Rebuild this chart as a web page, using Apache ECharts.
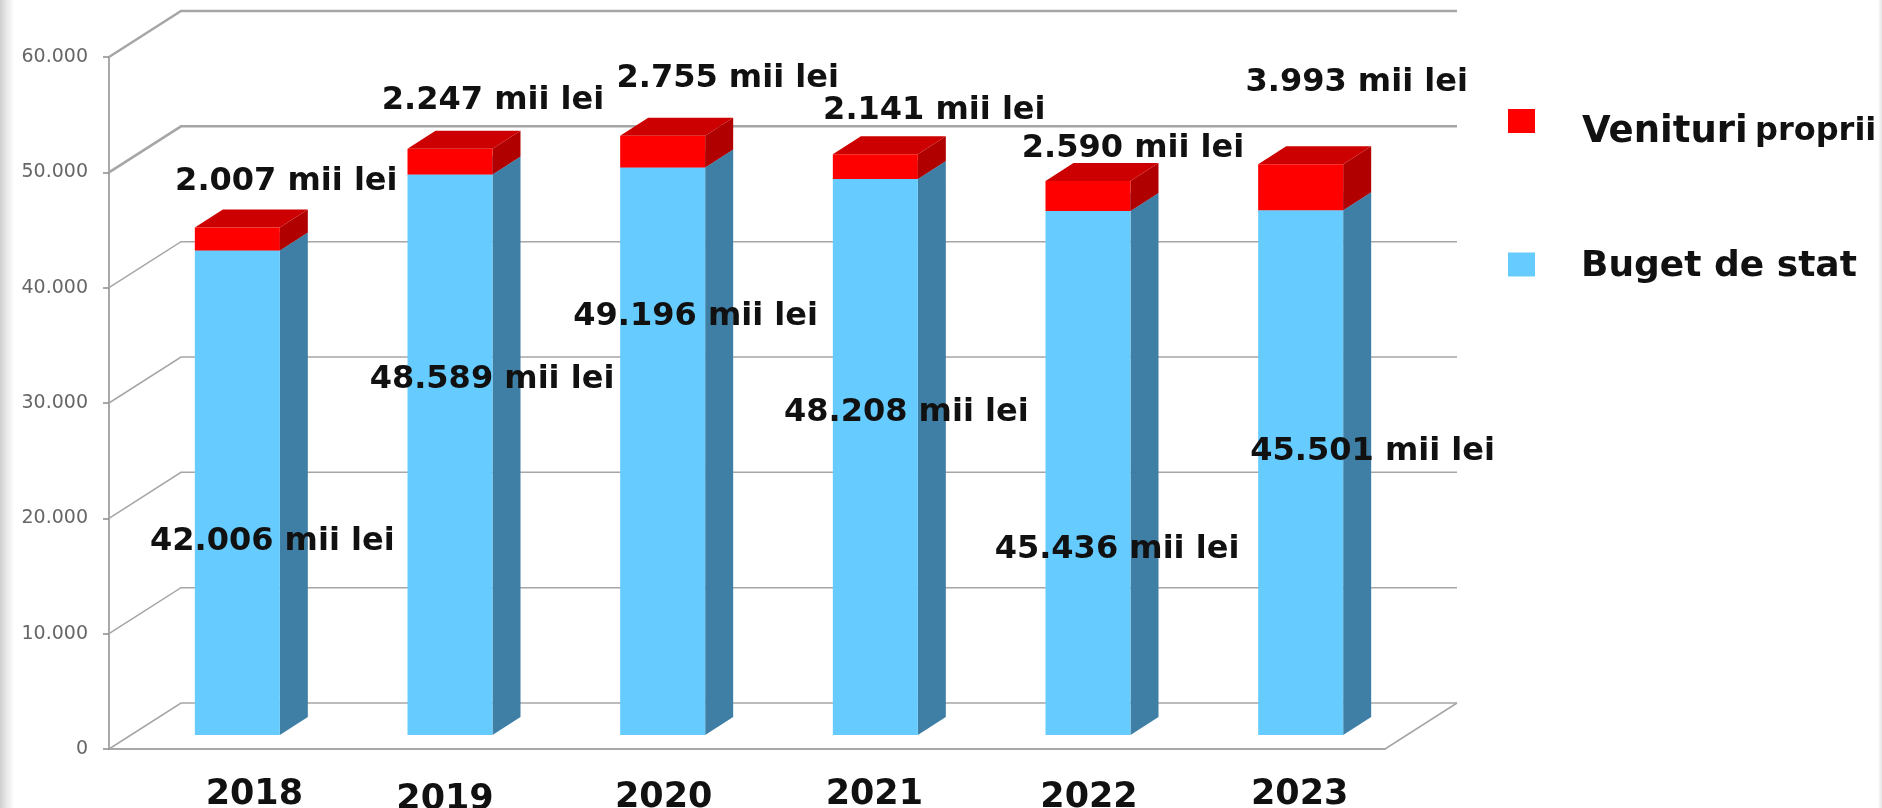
<!DOCTYPE html>
<html>
<head>
<meta charset="utf-8">
<style>
html,body{margin:0;padding:0;width:1882px;height:808px;overflow:hidden;
background:linear-gradient(to right,#cfcfcf 0,#e6e6e6 6px,#ffffff 14px,#ffffff 1878px,#e4e4e4 1882px);}
#chart{width:1882px;height:808px;filter:blur(0.6px);}
</style>
<script src="https://cdn.jsdelivr.net/npm/echarts@6/dist/echarts.min.js"></script>
</head>
<body>
<div id="chart"></div>
<script>
// ---- data ----
const years = ['2018','2019','2020','2021','2022','2023'];
const bugetDeStat = [42006,48589,49196,48208,45436,45501];
const venituriProprii = [2007,2247,2755,2141,2590,3993];
const valueTicks = [0,10000,20000,30000,40000,50000,60000];

// ---- look / placement ----
const WALL = {dx:72, dy:-46};       // depth of the chart box
const BAR_SHIFT = {dx:22, dy:-14};  // bars stand inside the box
const BAR_DEPTH = {dx:28, dy:-18};
const BAR_WIDTH = 85;
const FONT = '"DejaVu Sans", sans-serif';
const bugetLabelNudge = [[35,291],[42,205],[33,149],[31,234],[29,339],[72,241]];
const venituriLabelNudge = [[49,-46],[43,-48],[65,-57],[59,-44],[45,-32],[56,-81]];
const yearNudge = [[39,0],[17,5],[23,3],[21,0],[23,3],[21,0]];

const dotted = v => String(v).replace(/\B(?=(\d{3})+$)/g,'.');

function barRenderer(baseOf, labelNudge, faces){
  return function(params, api){
    const i = api.value(0);
    const v = api.value(1);
    const base = baseOf[i];
    const front = api.coord([i, base+v]);
    const back = api.coord([i, base]);
    const cx = front[0]+BAR_SHIFT.dx;
    const x0 = cx-BAR_WIDTH/2, x1 = cx+BAR_WIDTH/2;
    const yT = front[1]+BAR_SHIFT.dy, yB = back[1]+BAR_SHIFT.dy;
    const d = BAR_DEPTH;
    const children = [
      {type:'polygon',shape:{points:[[x1,yT],[x1+d.dx,yT+d.dy],[x1+d.dx,yB+d.dy],[x1,yB]]},style:{fill:faces.side}},
      {type:'polygon',shape:{points:[[x0,yT],[x0+d.dx,yT+d.dy],[x1+d.dx,yT+d.dy],[x1,yT]]},style:{fill:faces.top}},
      {type:'rect',shape:{x:x0,y:yT,width:BAR_WIDTH,height:yB-yT},style:{fill:faces.front}},
      {type:'text',z2:100,style:{
        x:cx+labelNudge[i][0],y:yT+labelNudge[i][1],
        text:dotted(v)+' mii lei',align:'center',verticalAlign:'middle',
        font:'bold 32px '+FONT,fill:'#111111'}}
    ];
    return {type:'group',children};
  };
}

function wallRenderer(params, api){
  const v = api.value(0);
  const cs = params.coordSys;
  const y = api.coord([0,v])[1];
  const x0 = cs.x, x1 = cs.x+cs.width;
  const children = [{type:'polyline',
    shape:{points:[[x0,y],[x0+WALL.dx,y+WALL.dy],[x1+WALL.dx,y+WALL.dy]]},
    style:{fill:'none',stroke:'#a6a6a6',lineWidth:v>=50000?2.5:1.5}}];
  if(v===0){
    children.push({type:'line',shape:{x1:x1,y1:y,x2:x1+WALL.dx,y2:y+WALL.dy},
      style:{stroke:'#a6a6a6',lineWidth:1.5}});
  }
  return {type:'group',children};
}

const boldText = size => ({fontFamily:FONT,fontWeight:'bold',fontSize:size,color:'#111111'});

const yearRich = {};
years.forEach((y,i)=>{
  yearRich['y'+y] = Object.assign(boldText(35),{
    padding:[yearNudge[i][1],0,0,2*yearNudge[i][0]]});
});

const chart = echarts.init(document.getElementById('chart'),null,{renderer:'canvas'});
chart.setOption({
  animation:false,
  backgroundColor:'transparent',
  grid:{left:109,top:57,width:1276,height:692,containLabel:false,outerBoundsMode:'none'},
  xAxis:{type:'category',data:years,
    axisLine:{lineStyle:{color:'#8c8c8c',width:1.5}},
    axisTick:{show:false},
    axisLabel:{margin:28,interval:0,verticalAlign:'top',
      formatter:v=>'{y'+v+'|'+v+'}',rich:yearRich}},
  yAxis:{type:'value',min:0,max:60000,interval:10000,
    axisLine:{show:true,lineStyle:{color:'#8c8c8c',width:1.5}},
    axisTick:{show:true,length:6,lineStyle:{color:'#8c8c8c',width:1.5}},
    splitLine:{show:false},
    axisLabel:{margin:21,color:'#666666',fontFamily:FONT,fontSize:19,formatter:dotted}},
  legend:{left:1503,top:104,orient:'vertical',itemWidth:27,itemHeight:24,itemGap:98,
    selectedMode:false,icon:'rect',
    data:['Venituri proprii','Buget de stat'],
    formatter:n=>{
      if(n==='Venituri proprii') return '{a|Venituri} {b|proprii}';
      return '{c|'+n+'}';
    },
    textStyle:{rich:{
      a:Object.assign(boldText(37),{padding:[22,0,0,42]}),
      b:Object.assign(boldText(32),{padding:[22,0,0,4]}),
      c:Object.assign(boldText(36),{padding:[4,0,0,41]})
    }}},
  series:[
    {type:'custom',name:'wall',z:1,silent:true,clip:false,
     coordinateSystem:'cartesian2d',
     encode:{y:0},data:valueTicks.map(v=>[v]),renderItem:wallRenderer},
    {type:'custom',name:'Buget de stat',z:2,clip:false,
     itemStyle:{color:'#66ccff'},
     encode:{x:0,y:1},
     data:bugetDeStat.map((v,i)=>[i,v]),
     renderItem:barRenderer(years.map(()=>0),bugetLabelNudge,
       {front:'#66ccff',side:'#3f7fa6',top:'#4fa3cf'})},
    {type:'custom',name:'Venituri proprii',z:3,clip:false,
     itemStyle:{color:'#ff0000'},
     encode:{x:0,y:1},
     data:venituriProprii.map((v,i)=>[i,v]),
     renderItem:barRenderer(bugetDeStat,venituriLabelNudge,
       {front:'#ff0000',side:'#b00000',top:'#cc0000'})}
  ]
});
</script>
</body>
</html>
